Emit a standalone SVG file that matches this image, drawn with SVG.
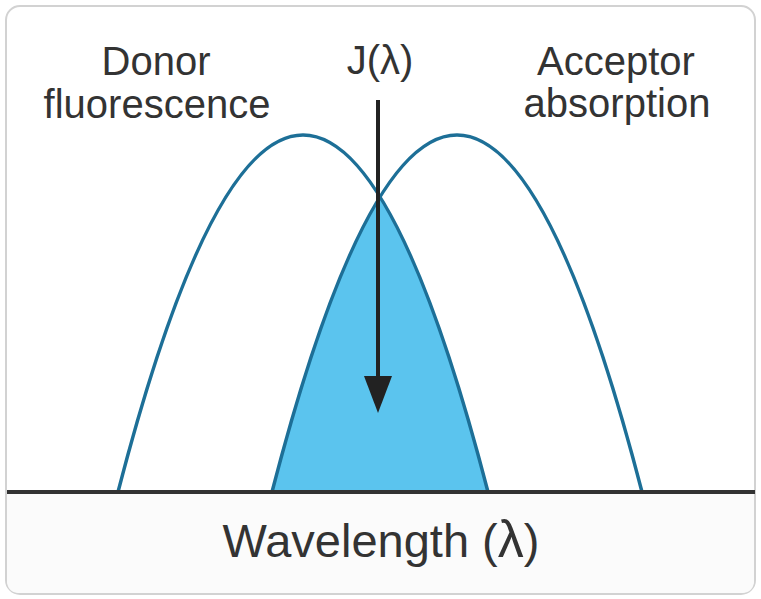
<svg xmlns="http://www.w3.org/2000/svg" width="761" height="599" viewBox="0 0 761 599">
  <style>
    .lbl { font-family: "Liberation Sans", Arial, sans-serif; fill: #333333; text-anchor: middle; }
    .top { font-size: 40px; }
    .axis { font-size: 47px; }
    .curve { fill: none; stroke: #1d6f97; stroke-width: 3.5; }
  </style>
  <defs>
    <clipPath id="accClip">
      <path d="M272,492 Q457,-222 642,492 Z"/>
    </clipPath>
  </defs>
  <rect id="frame" x="6" y="6" width="749" height="588" rx="14" ry="14" fill="#ffffff" stroke="#d2d2d2" stroke-width="2"/>
  <path d="M7,492 H754 V580 Q754,593 741,593 H20 Q7,593 7,580 Z" fill="#fbfbfb"/>
  <g id="overlap">
    <path d="M118,492 Q303,-222 488,492 Z" fill="#5bc4ee" clip-path="url(#accClip)"/>
  </g>
  <g id="donor">
    <path class="curve" d="M118,492 Q303,-222 488,492"/>
    <text class="lbl top" x="156" y="75">Donor</text>
    <text class="lbl top" x="157" y="118">fluorescence</text>
  </g>
  <g id="acceptor">
    <path class="curve" d="M272,492 Q457,-222 642,492"/>
    <text class="lbl top" x="616" y="75">Acceptor</text>
    <text class="lbl top" x="617" y="117">absorption</text>
  </g>
  <g id="axis">
    <line x1="7" y1="492" x2="755" y2="492" stroke="#333333" stroke-width="4"/>
    <text class="lbl axis" x="381" y="557">Wavelength (<tspan font-size="52">λ</tspan>)</text>
  </g>
  <g id="overlap-label">
    <text class="lbl top" x="380" y="74">J(λ)</text>
  </g>
  <g id="connectors">
    <line x1="378" y1="100" x2="378" y2="378" stroke="#222222" stroke-width="4"/>
    <path d="M364,376 L392,376 L378,413 Z" fill="#222222"/>
  </g>
</svg>
